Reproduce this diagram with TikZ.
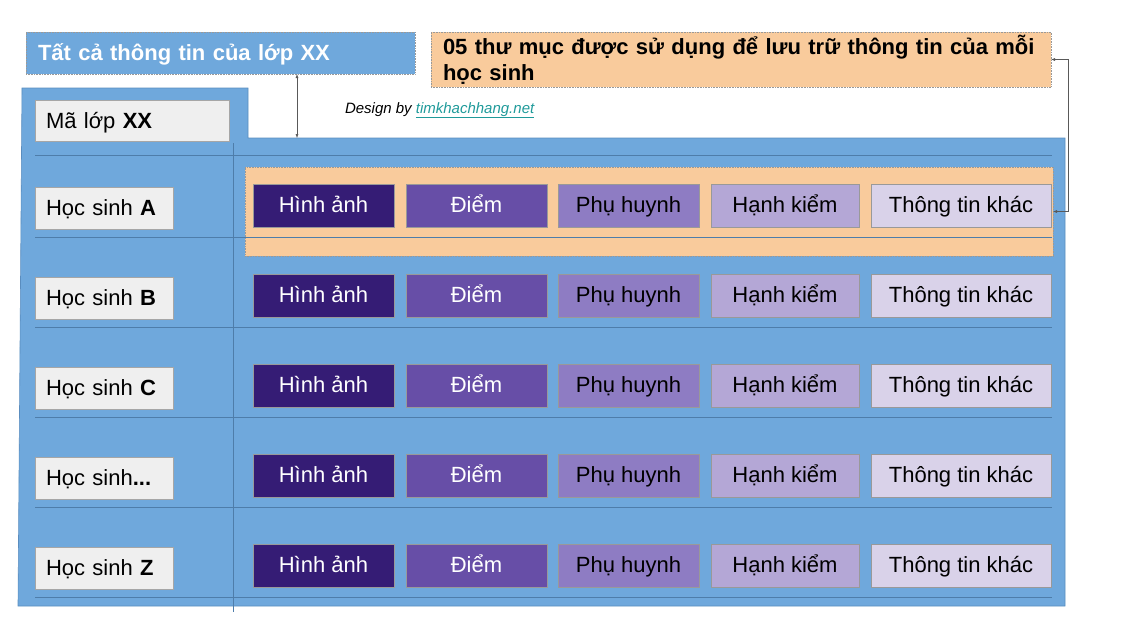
\documentclass[tikz,border=0pt]{standalone}
\usepackage{fontspec}
\setmainfont{Liberation Sans}
\usepackage{xcolor}
\usetikzlibrary{arrows.meta}

\definecolor{panelblue}{HTML}{6FA8DC}
\definecolor{paneledge}{HTML}{5A8DBF}
\definecolor{gridblue}{HTML}{4E7DAA}
\definecolor{paleorange}{HTML}{F9CB9C}
\definecolor{lightgrey}{HTML}{EFEFEF}
\definecolor{purpleA}{HTML}{351C75}
\definecolor{purpleB}{HTML}{674EA7}
\definecolor{purpleC}{HTML}{8E7CC3}
\definecolor{purpleD}{HTML}{B4A7D6}
\definecolor{purpleE}{HTML}{D9D2E9}
\definecolor{linkteal}{HTML}{1F9A9A}

\begin{document}
\begin{tikzpicture}[x=1pt,y=-1pt,line width=0.6pt,
every node/.style={inner sep=0pt,outer sep=0pt},
titlebox/.style={draw=black!40,densely dotted,align=left,inner xsep=12pt,font=\fontsize{22}{26}\selectfont\bfseries},
namebox/.style={draw=black!35,fill=lightgrey,align=left,inner xsep=11pt,minimum height=42pt,text height=17pt,text depth=3pt,font=\fontsize{22}{26}\selectfont},
cellbox/.style={draw=black!40,minimum height=43pt,text height=17pt,text depth=3pt,font=\fontsize{22}{26}\selectfont},
gridline/.style={draw=gridblue,line width=0.8pt},
tinyarrow/.style={{Latex[length=4pt,width=3pt]}-{Latex[length=4pt,width=3pt]},draw=black!65,line width=0.5pt}]

\useasboundingbox (0,0) rectangle (1140,622);


% 1
\node[titlebox,fill=panelblue,text=white,text width=365pt,minimum height=42pt,text height=17pt,text depth=3pt] (TitleClass) at (220.5,53) {Tất cả thông tin của lớp XX};
\node[titlebox,fill=paleorange,text=black,text width=596pt,minimum height=55pt] (TitleFolders) at (741,59.5) {05 thư mục được sử dụng để lưu trữ thông tin của mỗi\\học sinh};

\node[anchor=base west,font=\fontsize{15}{18}\selectfont\itshape] (Credit) at (345,113) {Design by \textcolor{linkteal}{\underline{timkhachhang.net}}};


% 2
\fill[panelblue,draw=paneledge] (22,88) -- (248,88) -- (248,138) -- (1065,138) -- (1065,606) -- (18,606) -- cycle;

\node[draw=black!40,densely dotted,fill=paleorange,minimum width=808pt,minimum height=89pt] (Highlight) at (649,211.5) {};

\draw[gridline] (35,155) -- (1052,155);
\draw[gridline] (35,237) -- (1052,237);
\draw[gridline] (35,327) -- (1052,327);
\draw[gridline] (35,417) -- (1052,417);
\draw[gridline] (35,507) -- (1052,507);
\draw[gridline] (35,597) -- (1052,597);
\draw[gridline] (233,143) -- (233,612);


\node[namebox,text width=172pt,minimum height=41pt] (ClassCode) at (132,121) {Mã lớp \textbf{XX}};

\node[namebox,text width=116pt] (StudentA) at (104,208) {Học sinh \textbf{A}};
\node[namebox,text width=116pt] (StudentB) at (104,298) {Học sinh \textbf{B}};
\node[namebox,text width=116pt] (StudentC) at (104,388) {Học sinh \textbf{C}};
\node[namebox,text width=116pt] (StudentD) at (104,478) {Học sinh\textbf{...}};
\node[namebox,text width=116pt] (StudentZ) at (104,568) {Học sinh \textbf{Z}};


% 3
\node[cellbox,fill=purpleA,text=white,minimum width=141pt] (CellA1) at (323.5,205.5) {Hình ảnh};
\node[cellbox,fill=purpleB,text=white,minimum width=141pt] (CellA2) at (476.5,205.5) {Điểm};
\node[cellbox,fill=purpleC,text=black,minimum width=141pt] (CellA3) at (628.5,205.5) {Phụ huynh};
\node[cellbox,fill=purpleD,text=black,minimum width=148pt] (CellA4) at (785,205.5) {Hạnh kiểm};
\node[cellbox,fill=purpleE,text=black,minimum width=180pt] (CellA5) at (961,205.5) {Thông tin khác};

\node[cellbox,fill=purpleA,text=white,minimum width=141pt] (CellB1) at (323.5,295.5) {Hình ảnh};
\node[cellbox,fill=purpleB,text=white,minimum width=141pt] (CellB2) at (476.5,295.5) {Điểm};
\node[cellbox,fill=purpleC,text=black,minimum width=141pt] (CellB3) at (628.5,295.5) {Phụ huynh};
\node[cellbox,fill=purpleD,text=black,minimum width=148pt] (CellB4) at (785,295.5) {Hạnh kiểm};
\node[cellbox,fill=purpleE,text=black,minimum width=180pt] (CellB5) at (961,295.5) {Thông tin khác};

\node[cellbox,fill=purpleA,text=white,minimum width=141pt] (CellC1) at (323.5,385.5) {Hình ảnh};
\node[cellbox,fill=purpleB,text=white,minimum width=141pt] (CellC2) at (476.5,385.5) {Điểm};
\node[cellbox,fill=purpleC,text=black,minimum width=141pt] (CellC3) at (628.5,385.5) {Phụ huynh};
\node[cellbox,fill=purpleD,text=black,minimum width=148pt] (CellC4) at (785,385.5) {Hạnh kiểm};
\node[cellbox,fill=purpleE,text=black,minimum width=180pt] (CellC5) at (961,385.5) {Thông tin khác};

\node[cellbox,fill=purpleA,text=white,minimum width=141pt] (CellD1) at (323.5,475.5) {Hình ảnh};
\node[cellbox,fill=purpleB,text=white,minimum width=141pt] (CellD2) at (476.5,475.5) {Điểm};
\node[cellbox,fill=purpleC,text=black,minimum width=141pt] (CellD3) at (628.5,475.5) {Phụ huynh};
\node[cellbox,fill=purpleD,text=black,minimum width=148pt] (CellD4) at (785,475.5) {Hạnh kiểm};
\node[cellbox,fill=purpleE,text=black,minimum width=180pt] (CellD5) at (961,475.5) {Thông tin khác};

\node[cellbox,fill=purpleA,text=white,minimum width=141pt] (CellZ1) at (323.5,565.5) {Hình ảnh};
\node[cellbox,fill=purpleB,text=white,minimum width=141pt] (CellZ2) at (476.5,565.5) {Điểm};
\node[cellbox,fill=purpleC,text=black,minimum width=141pt] (CellZ3) at (628.5,565.5) {Phụ huynh};
\node[cellbox,fill=purpleD,text=black,minimum width=148pt] (CellZ4) at (785,565.5) {Hạnh kiểm};
\node[cellbox,fill=purpleE,text=black,minimum width=180pt] (CellZ5) at (961,565.5) {Thông tin khác};


% connectors
\coordinate (PanelTop) at (297,138);
\draw[tinyarrow] (PanelTop |- TitleClass.south) -- (PanelTop);

\draw[tinyarrow] (TitleFolders.east) -- ++(17,0) |- (Highlight.east);

\end{tikzpicture}
\end{document}
